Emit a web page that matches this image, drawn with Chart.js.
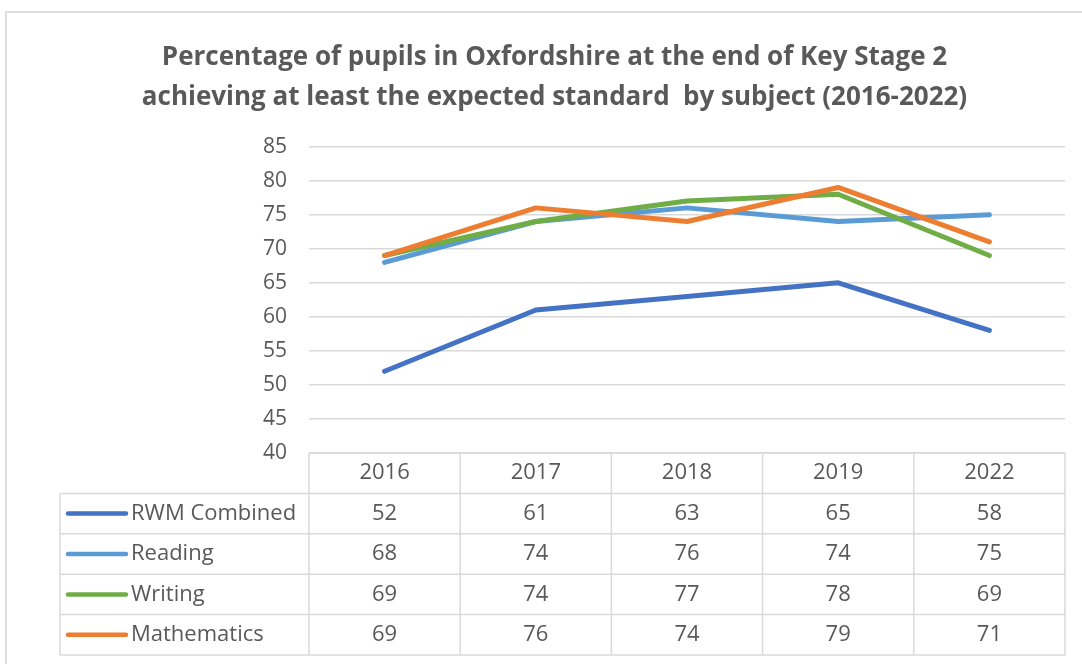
<!DOCTYPE html>
<html lang="en">
<head>
  <meta charset="UTF-8">
  <title>Key Stage 2 expected standard - Oxfordshire</title>
  <script src="https://cdn.jsdelivr.net/npm/chart.js"></script>
  <style>
    body {
      margin: 0;
      background: #fff;
      overflow: hidden;
    }
    .frame {
      position: absolute;
      left: 5px;
      top: 11px;
      width: 1200px;
      height: 800px;
      border: 2px solid #dedede;
    }
    .chart-box {
      position: absolute;
      left: 0;
      top: 0;
      width: 1082px;
      height: 664px;
    }
  </style>
</head>
<body>

<div class="frame"></div>
<div class="chart-box">
  <canvas id="ks2Chart"></canvas>
</div>

<script>
// data
const years = ['2016', '2017', '2018', '2019', '2022'];
const rwmCombined = [52, 61, 63, 65, 58];
const reading = [68, 74, 76, 74, 75];
const writing = [69, 74, 77, 78, 69];
const mathematics = [69, 76, 74, 79, 71];

const seriesNames = ['RWM Combined', 'Reading', 'Writing', 'Mathematics'];
const seriesColors = ['#4472C4', '#5B9BD5', '#70AD47', '#ED7D31'];
const seriesValues = [rwmCombined, reading, writing, mathematics];

const textColor = '#595959';
const lineColor = '#d9d9d9';
const cellFont = '22px "Open Sans", sans-serif';
const rowHeight = 40.4;

// draws the data table (with legend keys) under the plot area
const dataTable = {
  id: 'dataTable',
  afterDraw(chart) {
    const ctx = chart.ctx;
    const xs = chart.scales.x;
    const area = chart.chartArea;
    const step = xs.getPixelForValue(1) - xs.getPixelForValue(0);
    const top = area.bottom;
    const labelLeft = 60;
    const bottom = top + rowHeight * (seriesNames.length + 1);

    ctx.save();
    ctx.strokeStyle = lineColor;
    ctx.lineWidth = 1.5;

    // horizontal rules
    ctx.beginPath();
    ctx.moveTo(area.left, top);
    ctx.lineTo(area.right, top);
    for (let r = 1; r <= seriesNames.length + 1; r++) {
      const y = top + r * rowHeight;
      ctx.moveTo(labelLeft, y);
      ctx.lineTo(area.right, y);
    }
    // vertical rules
    ctx.moveTo(labelLeft, top + rowHeight);
    ctx.lineTo(labelLeft, bottom);
    for (let i = 0; i <= years.length; i++) {
      const x = xs.getPixelForValue(0) - step / 2 + i * step;
      ctx.moveTo(x, top);
      ctx.lineTo(x, bottom);
    }
    ctx.stroke();

    ctx.font = cellFont;
    ctx.fillStyle = textColor;
    ctx.textBaseline = 'middle';
    ctx.textAlign = 'center';

    // header row
    years.forEach((yr, i) => {
      ctx.fillText(yr, xs.getPixelForValue(i), top + rowHeight / 2);
    });

    // series rows
    seriesNames.forEach((name, r) => {
      const cy = top + (r + 1.5) * rowHeight;
      ctx.strokeStyle = seriesColors[r];
      ctx.lineWidth = 4.5;
      ctx.lineCap = 'round';
      ctx.beginPath();
      ctx.moveTo(68, cy);
      ctx.lineTo(126, cy);
      ctx.stroke();

      ctx.textAlign = 'left';
      ctx.fillText(name, 131, cy);
      ctx.textAlign = 'center';
      seriesValues[r].forEach((v, i) => {
        ctx.fillText(String(v), xs.getPixelForValue(i), cy);
      });
    });
    ctx.restore();
  }
};

new Chart(document.getElementById('ks2Chart'), {
  type: 'line',
  data: {
    labels: years,
    datasets: seriesNames.map((name, i) => ({
      label: name,
      data: seriesValues[i],
      borderColor: seriesColors[i],
      backgroundColor: seriesColors[i],
      borderWidth: 5,
      borderCapStyle: 'round',
      borderJoinStyle: 'round',
      pointRadius: 0,
      tension: 0,
      order: seriesNames.length - i
    }))
  },
  options: {
    responsive: true,
    maintainAspectRatio: false,
    animation: false,
    layout: {
      padding: { left: 44, right: 17, top: 0, bottom: 211 }
    },
    plugins: {
      legend: { display: false },
      tooltip: { enabled: false },
      title: {
        display: true,
        text: [
          'Percentage of pupils in Oxfordshire at the end of Key Stage 2',
          'achieving at least the expected standard  by subject (2016-2022)'
        ],
        color: textColor,
        font: { family: '"Open Sans", sans-serif', size: 26, weight: 'bold', lineHeight: 1.55 },
        padding: { top: 37, bottom: 29 }
      }
    },
    scales: {
      x: {
        display: false,
        offset: true
      },
      y: {
        min: 40,
        max: 85,
        afterFit(scale) { scale.width = 265; },
        border: { display: false },
        grid: {
          color: lineColor,
          lineWidth: 1.5,
          drawTicks: false
        },
        ticks: {
          stepSize: 5,
          padding: 22,
          color: textColor,
          font: { family: '"Open Sans", sans-serif', size: 21 }
        }
      }
    }
  },
  plugins: [dataTable]
});
</script>

</body>
</html>
